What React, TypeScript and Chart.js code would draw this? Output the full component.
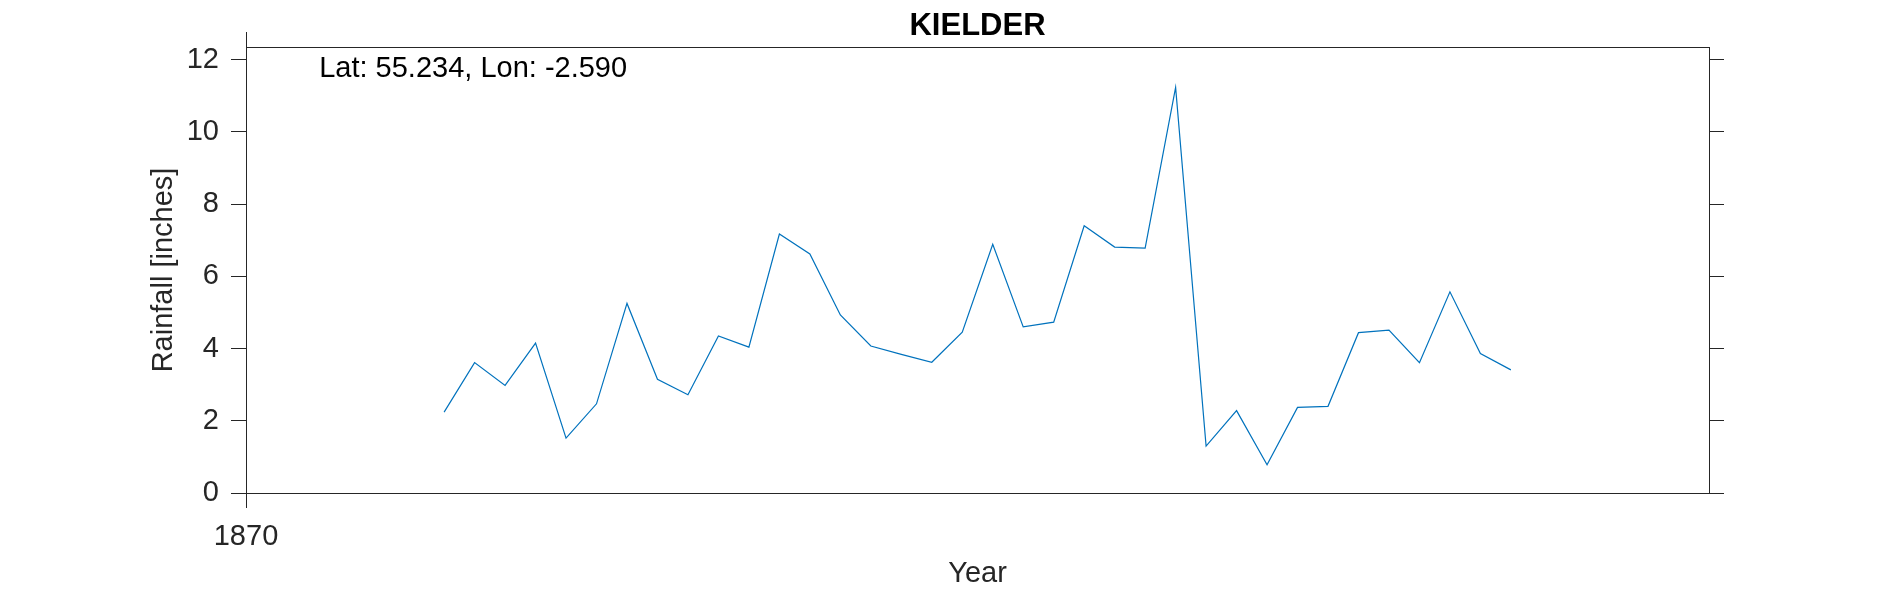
import { useEffect, useRef } from "react";
import { Chart, registerables } from "chart.js";

Chart.register(...registerables);

// annual rainfall, Kielder station
const years = [
  1876.5, 1877.5, 1878.5, 1879.5, 1880.5, 1881.5, 1882.5, 1883.5, 1884.5,
  1885.5, 1886.5, 1887.5, 1888.5, 1889.5, 1890.5, 1891.5, 1892.5, 1893.5,
  1894.5, 1895.5, 1896.5, 1897.5, 1898.5, 1899.5, 1900.5, 1901.5, 1902.5,
  1903.5, 1904.5, 1905.5, 1906.5, 1907.5, 1908.5, 1909.5, 1910.5, 1911.5,
];
const rainfall = [
  2.24, 3.61, 2.98, 4.15, 1.52, 2.47, 5.25, 3.15, 2.72, 4.35,
  4.04, 7.17, 6.62, 4.93, 4.07, 3.84, 3.62, 4.45, 6.89, 4.6,
  4.73, 7.4, 6.81, 6.78, 11.23, 1.3, 2.28, 0.78, 2.37, 2.4,
  4.44, 4.51, 3.61, 5.57, 3.86, 3.41,
];
const xTicks = [1870];
const yTicks = [0, 2, 4, 6, 8, 10, 12];
const xMin = 1870;
const xMax = 1918;
const yMin = 0;
const yMax = 12.35;

const stationTitle = "KIELDER";
const locationText = "Lat: 55.234, Lon: -2.590";
const locationX = 1872.4;
const locationY = 11.51;

const FONT = "'Liberation Sans', Arial, Helvetica, sans-serif";
const AXIS = "#262626";

// title centred over the plot box (not the canvas), plus the lat/lon note
const labels = {
  id: "labels",
  afterDraw(chart: any) {
    const { ctx, scales, chartArea } = chart;
    ctx.save();
    ctx.fillStyle = "#000000";
    ctx.textBaseline = "alphabetic";

    ctx.font = `bold 31px ${FONT}`;
    ctx.textAlign = "center";
    ctx.fillText(stationTitle, (chartArea.left + chartArea.right) / 2, 35);

    ctx.font = `29px ${FONT}`;
    ctx.textAlign = "left";
    ctx.fillText(
      locationText,
      scales.x.getPixelForValue(locationX),
      scales.y.getPixelForValue(locationY)
    );
    ctx.restore();
  },
};

export default function App() {
  const canvasRef = useRef<HTMLCanvasElement | null>(null);

  useEffect(() => {
    if (!canvasRef.current) return;

    const tickGrid = {
      drawOnChartArea: false,
      drawTicks: true,
      tickLength: 15,
      tickColor: AXIS,
      tickWidth: 1,
    };
    const border = { display: true, color: AXIS, width: 1 };
    const tickFont = { family: FONT, size: 29 };

    const chart = new Chart(canvasRef.current, {
      type: "line",
      data: {
        datasets: [
          {
            data: years.map((y, i) => ({ x: y, y: rainfall[i] })),
            borderColor: "#0072BD",
            borderWidth: 1.2,
            pointRadius: 0,
            tension: 0,
            fill: false,
          },
        ],
      },
      options: {
        animation: false,
        responsive: true,
        maintainAspectRatio: false,
        devicePixelRatio: 1,
        layout: { padding: 0 },
        plugins: {
          legend: { display: false },
          tooltip: { enabled: false },
          title: { display: false },
        },
        scales: {
          x: {
            type: "linear",
            position: "bottom",
            min: xMin,
            max: xMax,
            afterBuildTicks: (s: any) => {
              s.ticks = xTicks.map((v) => ({ value: v }));
            },
            afterFit: (s: any) => {
              s.height = 98;
            },
            grid: tickGrid,
            border,
            ticks: {
              color: AXIS,
              font: tickFont,
              padding: 12,
              maxRotation: 0,
              autoSkip: false,
              callback: (v: any) => String(v),
            },
            title: {
              display: true,
              text: "Year",
              color: AXIS,
              font: tickFont,
              padding: { top: 0, bottom: 0 },
            },
          },
          xTop: {
            type: "linear",
            position: "top",
            min: xMin,
            max: xMax,
            afterBuildTicks: (s: any) => {
              s.ticks = xTicks.map((v) => ({ value: v }));
            },
            afterFit: (s: any) => {
              s.height = 47;
            },
            grid: tickGrid,
            border,
            ticks: { display: true, callback: () => "" },
          },
          y: {
            type: "linear",
            position: "left",
            min: yMin,
            max: yMax,
            afterBuildTicks: (s: any) => {
              s.ticks = yTicks.map((v) => ({ value: v }));
            },
            afterFit: (s: any) => {
              s.width = 246;
            },
            grid: tickGrid,
            border,
            ticks: {
              color: AXIS,
              font: tickFont,
              padding: 12,
              callback: (v: any) => String(v),
            },
            title: {
              display: true,
              text: "Rainfall [inches]",
              color: AXIS,
              font: tickFont,
              padding: { top: 147, bottom: 0 },
            },
          },
          yRight: {
            type: "linear",
            position: "right",
            min: yMin,
            max: yMax,
            afterBuildTicks: (s: any) => {
              s.ticks = yTicks.map((v) => ({ value: v }));
            },
            afterFit: (s: any) => {
              s.width = 181;
            },
            grid: tickGrid,
            border,
            ticks: { display: true, callback: () => "" },
          },
        },
      },
      plugins: [labels],
    });

    return () => chart.destroy();
  }, []);

  return (
    <div
      style={{
        position: "absolute",
        left: 0,
        top: 0,
        width: 1890,
        height: 591,
        background: "#ffffff",
      }}
    >
      <canvas ref={canvasRef} />
    </div>
  );
}
